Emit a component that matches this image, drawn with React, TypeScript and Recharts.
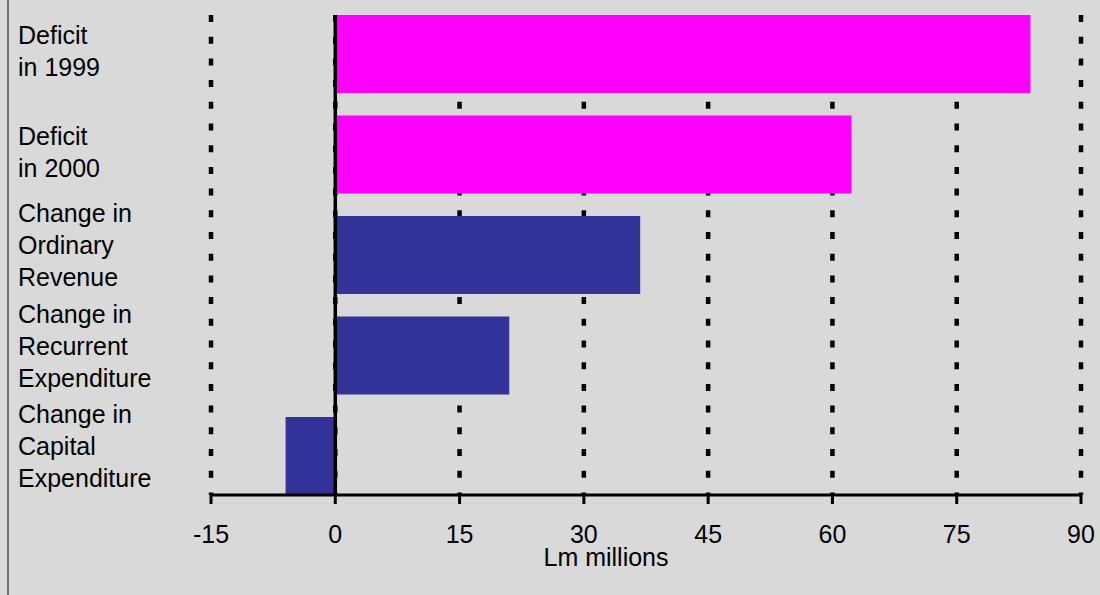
import React from 'react';
import { BarChart, Bar, XAxis, YAxis, CartesianGrid, ReferenceLine, Cell, Label } from 'recharts';

// category labels (line breaks as in the original)
const categories = [
  'Deficit\nin 1999',
  'Deficit\nin 2000',
  'Change in\nOrdinary\nRevenue',
  'Change in\nRecurrent\nExpenditure',
  'Change in\nCapital\nExpenditure',
];

// Lm millions
const values = [83.9, 62.3, 36.8, 21.0, -6.0];

const xTicks = [-15, 0, 15, 30, 45, 60, 75, 90];

const data = categories.map((name, i) => ({ name, value: values[i] }));

const FONT = '"Liberation Sans", Arial, sans-serif';
const MAGENTA = '#ff00ff';
const NAVY = '#333399';

const CategoryTick = (props: any) => {
  const { y, payload } = props;
  const lines: string[] = String(payload.value).split('\n');
  const lineH = 32;
  const shift = lines.length > 2 ? -10 : -3;
  const first = y - ((lines.length - 1) * lineH) / 2 + 9 + shift;
  return (
    <text x={18} y={first} fontFamily={FONT} fontSize={25} fill="#000" textAnchor="start">
      {lines.map((l, i) => (
        <tspan key={i} x={18} y={first + i * lineH}>
          {l}
        </tspan>
      ))}
    </text>
  );
};

export default function App() {
  return (
    <div
      style={{
        position: 'absolute',
        left: 0,
        top: 0,
        width: 1100,
        height: 595,
        background: '#d9d9d9',
        fontFamily: FONT,
      }}
    >
      <div style={{ position: 'absolute', left: 7, top: 0, width: 2, height: 595, background: '#707070' }} />
      <BarChart
        width={1100}
        height={595}
        data={data}
        layout="vertical"
        margin={{ top: 15, right: 19, left: 0, bottom: 20 }}
        barCategoryGap={11.25}
      >
        <CartesianGrid
          horizontal={false}
          stroke="#000"
          strokeWidth={4.5}
          strokeDasharray="7 14.7"
        />
        <XAxis
          type="number"
          domain={[-15, 90]}
          ticks={xTicks}
          interval={0}
          allowDataOverflow
          height={80}
          axisLine={{ stroke: '#000', strokeWidth: 3 }}
          tickLine={{ stroke: '#000', strokeWidth: 3 }}
          tickSize={9}
          tickMargin={21}
          tick={{ fill: '#000', fontSize: 25, fontFamily: FONT }}
        >
          <Label
            value="Lm millions"
            position="insideTop"
            offset={53}
            dx={-40}
            style={{ fill: '#000', fontSize: 25, fontFamily: FONT }}
          />
        </XAxis>
        <YAxis
          type="category"
          dataKey="name"
          width={211}
          axisLine={false}
          tickLine={false}
          interval={0}
          padding={{ top: -11.25, bottom: -11.25 }}
          tick={<CategoryTick />}
        />
        <Bar dataKey="value" isAnimationActive={false}>
          {data.map((d, i) => (
            <Cell key={i} fill={d.name.startsWith('Deficit') ? MAGENTA : NAVY} />
          ))}
        </Bar>
        <ReferenceLine x={0} stroke="#000" strokeWidth={3.5} />
      </BarChart>
    </div>
  );
}
